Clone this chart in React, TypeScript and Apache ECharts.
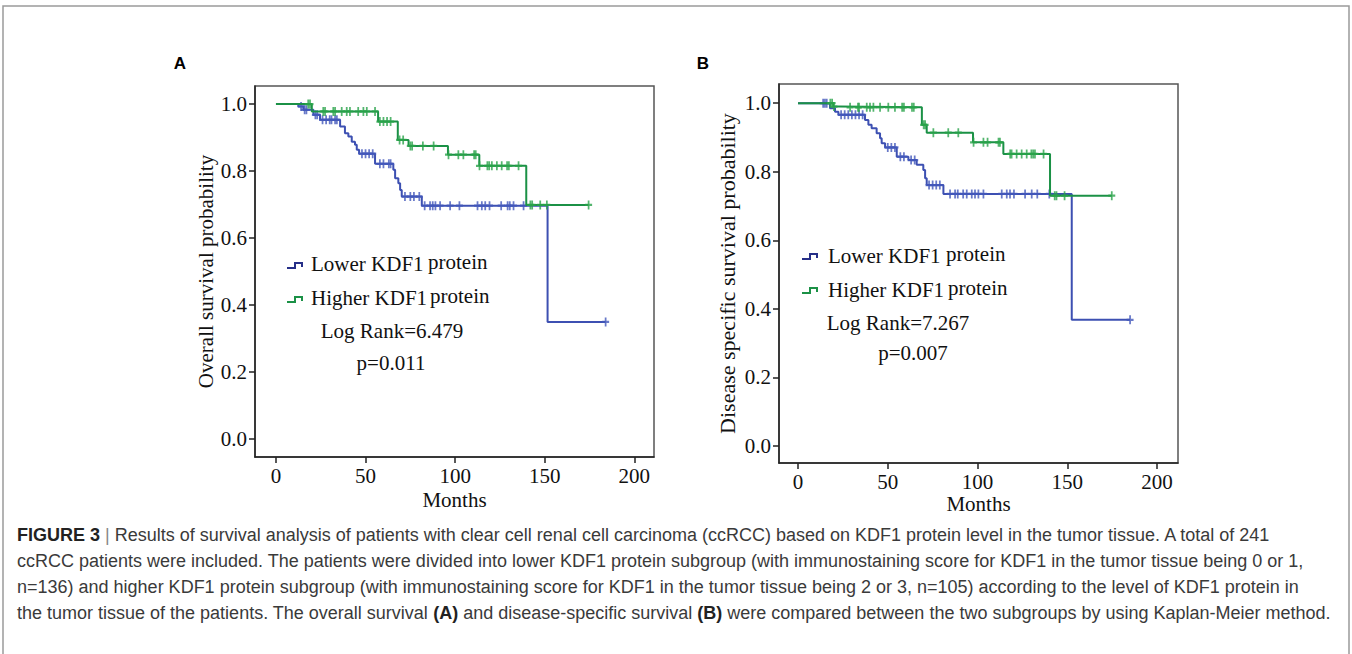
import React, { useEffect, useRef } from 'react';
import * as echarts from 'echarts';

// ---------- tick labels ----------
const xTicks = [0, 50, 100, 150, 200];
const yTicks = [0, 0.2, 0.4, 0.6, 0.8, 1.0];

// ---------- Panel A: overall survival (step points [month, survival]) ----------
const osLower: [number, number][] = [
  [0, 1], [12.5, 0.993], [15.3, 0.983], [20.9, 0.968], [24.6, 0.953], [35.8, 0.933],
  [38.5, 0.913], [40.4, 0.903], [42.3, 0.888], [44.1, 0.879], [45.1, 0.864], [46.4, 0.852],
  [55.3, 0.822], [65.5, 0.804], [66.5, 0.779], [68.3, 0.764], [69.3, 0.744], [70.2, 0.724],
  [81.4, 0.697], [151.6, 0.35], [184, 0.35],
];
const osHigher: [number, number][] = [
  [0, 1], [20, 0.978], [57, 0.948], [68, 0.893], [74, 0.875], [96, 0.849],
  [113.5, 0.816], [139.7, 0.699], [174.5, 0.699],
];
const osLowerCensor = [
  14, 16, 17, 22, 23, 26, 28, 30, 31, 33, 34, 48, 50, 52, 54, 58, 60, 63, 64, 72, 75, 77, 80,
  83, 86, 87.5, 89, 91.6, 97.2, 102.4, 112.5, 114.9, 116.8, 119.2, 125.7, 129.3, 130.5, 132.6, 138.2, 184,
];
const osHigherCensor = [
  18, 19, 26.4, 27.4, 32, 33, 36.7, 39.5, 41.3, 45.9, 48.8, 50.7, 55.3, 58, 60, 62, 64, 69, 71,
  75, 76, 82, 88, 96.3, 101.8, 104.6, 110.6, 111.5, 113.6, 118, 119, 120.5, 123.3, 126, 129, 130,
  135.4, 142, 143, 147.5, 151.2, 174.5,
];

// ---------- Panel B: disease specific survival ----------
const dssLower: [number, number][] = [
  [0, 1], [17.8, 0.985], [20.6, 0.975], [22.5, 0.966], [37.3, 0.951], [39.2, 0.937],
  [41, 0.927], [43.8, 0.912], [45.7, 0.898], [46.6, 0.883], [48.5, 0.871], [55, 0.844],
  [61.5, 0.834], [66.1, 0.82], [69.8, 0.805], [70.8, 0.781], [71.7, 0.761], [81, 0.735],
  [152.5, 0.368], [185, 0.368],
];
const dssHigher: [number, number][] = [
  [0, 1], [19.7, 0.99], [22.8, 0.988], [69, 0.937], [71.7, 0.914], [97.5, 0.886],
  [114.4, 0.852], [140.4, 0.73], [174.8, 0.73],
];
const dssLowerCensor = [
  14, 15, 16, 24, 26, 28, 30, 32, 34, 36, 50, 52, 54, 57, 59, 63, 65, 73, 75, 77, 79,
  84.7, 87.5, 89, 92, 94, 96.8, 98.6, 100.5, 103.3, 113.5, 116.3, 118.1, 120.3, 126.5, 130.2,
  133.3, 140, 185,
];
const dssHigherCensor = [
  18, 19, 20, 29, 33.4, 34, 38.3, 40.1, 42, 45.7, 50.3, 54, 58, 59, 63.5, 64.5, 70, 70.8,
  75.4, 83.7, 89.3, 97.8, 103.3, 105.6, 111.7, 112.5, 118.2, 119, 121.8, 124.6, 127.4, 130,
  131, 132, 136.8, 143, 144, 148.5, 174.8,
];

const captionLines = [
  '{b|FIGURE 3} {g||} Results of survival analysis of patients with clear cell renal cell carcinoma (ccRCC) based on KDF1 protein level in the tumor tissue. A total of 241',
  'ccRCC patients were included. The patients were divided into lower KDF1 protein subgroup (with immunostaining score for KDF1 in the tumor tissue being 0 or 1,',
  'n=136) and higher KDF1 protein subgroup (with immunostaining score for KDF1 in the tumor tissue being 2 or 3, n=105) according to the level of KDF1 protein in',
  'the tumor tissue of the patients. The overall survival {b|(A)} and disease-specific survival {b|(B)} were compared between the two subgroups by using Kaplan-Meier method.',
];

const BLUE = '#3d50b2';
const BLUE_MARK = '#4257ba';
const GREEN = '#1b9146';
const GREEN_MARK = '#29a24a';
const NAVY = '#262f88';
const SERIF = '"Liberation Serif", "Times New Roman", serif';
const SANS = '"Liberation Sans", Arial, sans-serif';
const PLUS = 'path://M3,0H5V3H8V5H5V8H3V5H0V3H3Z';

function stepAt(steps: [number, number][], t: number) {
  let v = steps[0][1];
  for (const [x, y] of steps) {
    if (x <= t) v = y;
    else break;
  }
  return v;
}

function axes(idx: number, xr: [number, number], yr: [number, number], yName: string, yGap: number, xGap: number, yNameSize: number) {
  const line = { show: true, onZero: false, lineStyle: { color: '#222', width: 1.5 } };
  const tick = { show: true, length: 6, inside: false, lineStyle: { color: '#222', width: 1.5 } };
  return {
    x: {
      type: 'value', gridIndex: idx, min: xr[0], max: xr[1],
      axisLine: line,
      axisTick: { ...tick, customValues: xTicks },
      axisLabel: { customValues: xTicks, margin: 9, color: '#111', fontFamily: SERIF, fontSize: 21, lineHeight: 20 },
      splitLine: { show: false },
      name: 'Months', nameLocation: 'middle', nameGap: xGap, nameMoveOverlap: false,
      nameTextStyle: { color: '#111', fontFamily: SERIF, fontSize: 21, lineHeight: 20 },
    },
    y: {
      type: 'value', gridIndex: idx, min: yr[0], max: yr[1],
      axisLine: line,
      axisTick: { ...tick, customValues: yTicks },
      axisLabel: {
        customValues: yTicks, margin: 8, color: '#111', fontFamily: SERIF, fontSize: 21,
        formatter: (v: number) => v.toFixed(1),
      },
      splitLine: { show: false },
      name: yName, nameLocation: 'middle', nameGap: yGap, nameMoveOverlap: false,
      nameTextStyle: { color: '#111', fontFamily: SERIF, fontSize: yNameSize },
    },
  };
}

function kmSeries(idx: number, steps: [number, number][], censor: number[], color: string, mark: string, z: number) {
  return [
    {
      type: 'line', xAxisIndex: idx, yAxisIndex: idx, data: steps, step: 'end',
      showSymbol: false, symbol: 'none', lineStyle: { color, width: 2 }, z, silent: true,
    },
    {
      type: 'scatter', xAxisIndex: idx, yAxisIndex: idx,
      data: censor.map((t) => [t, stepAt(steps, t)]),
      symbol: PLUS, symbolSize: [7, 9], itemStyle: { color: mark }, z: z + 1, silent: true,
    },
  ];
}

function legendIcon(x: number, y: number, color: string) {
  return {
    type: 'polyline',
    shape: { points: [[x, y + 5], [x + 8, y + 5], [x + 8, y], [x + 15, y], [x + 15, y + 4]] },
    style: { stroke: color, lineWidth: 2, fill: 'none' },
  };
}

function txt(x: number, y: number, text: string, size: number, align = 'left') {
  return {
    type: 'text', x, y,
    style: { text, fontFamily: SERIF, fontSize: size, fill: '#111', align, verticalAlign: 'middle' },
  };
}

export default function App() {
  const ref = useRef<HTMLDivElement>(null);
  useEffect(() => {
    if (!ref.current) return;
    const chart = echarts.init(ref.current, undefined, { renderer: 'svg' });
    const a = axes(0, [-11.7, 211], [-0.053, 1.054], 'Overall survival probability', 39, 33, 21);
    const b = axes(1, [-10.6, 211.7], [-0.05, 1.056], 'Disease specific survival probability', 41, 31, 22);

    const graphic: any[] = [
      { type: 'rect', shape: { x: 3, y: 6, width: 1346, height: 720 }, style: { fill: 'none', stroke: '#9a9a9a', lineWidth: 1.5 } },
      { type: 'text', x: 180, y: 63, style: { text: 'A', fontFamily: SANS, fontWeight: 'bold', fontSize: 17, fill: '#000', align: 'center', verticalAlign: 'middle' } },
      { type: 'text', x: 703, y: 63, style: { text: 'B', fontFamily: SANS, fontWeight: 'bold', fontSize: 17, fill: '#000', align: 'center', verticalAlign: 'middle' } },
      // Panel A legend
      legendIcon(287, 263, NAVY),
      txt(311, 264, 'Lower KDF1', 21),
      txt(428, 262, 'protein', 21),
      legendIcon(287, 297, GREEN),
      txt(311, 298, 'Higher KDF1', 21),
      txt(430, 296, 'protein', 21),
      txt(392, 331, 'Log Rank=6.479', 21, 'center'),
      txt(391, 363, 'p=0.011', 21, 'center'),
      // Panel B legend
      legendIcon(802, 254, NAVY),
      txt(828, 256, 'Lower KDF1', 21),
      txt(946, 254, 'protein', 21),
      legendIcon(802, 288, GREEN),
      txt(828, 290, 'Higher KDF1', 21),
      txt(948, 288, 'protein', 21),
      txt(898, 323, 'Log Rank=7.267', 21, 'center'),
      txt(913, 353, 'p=0.007', 21, 'center'),
    ];
    captionLines.forEach((line, i) => {
      graphic.push({
        type: 'text', x: 17, y: 535 + i * 26,
        style: {
          text: line, fontFamily: SANS, fontSize: 18, fill: '#3a3a3a', verticalAlign: 'middle',
          rich: {
            b: { fontFamily: SANS, fontSize: 18, fontWeight: 'bold', fill: '#222' },
            g: { fontFamily: SANS, fontSize: 18, fill: '#888' },
          },
        },
      });
    });

    chart.setOption({
      animation: false,
      backgroundColor: '#fff',
      grid: [
        { left: 255, top: 86, width: 399, height: 371, show: true, borderColor: '#555', borderWidth: 1.5, backgroundColor: 'transparent' },
        { left: 779, top: 84, width: 399, height: 379, show: true, borderColor: '#555', borderWidth: 1.5, backgroundColor: 'transparent' },
      ],
      xAxis: [a.x, b.x],
      yAxis: [a.y, b.y],
      series: [
        ...kmSeries(0, osLower, osLowerCensor, BLUE, BLUE_MARK, 2),
        ...kmSeries(0, osHigher, osHigherCensor, GREEN, GREEN_MARK, 4),
        ...kmSeries(1, dssLower, dssLowerCensor, BLUE, BLUE_MARK, 2),
        ...kmSeries(1, dssHigher, dssHigherCensor, GREEN, GREEN_MARK, 4),
      ],
      graphic,
    });
    return () => chart.dispose();
  }, []);
  return <div ref={ref} style={{ position: 'fixed', left: 0, top: 0, width: 1352, height: 654 }} />;
}
